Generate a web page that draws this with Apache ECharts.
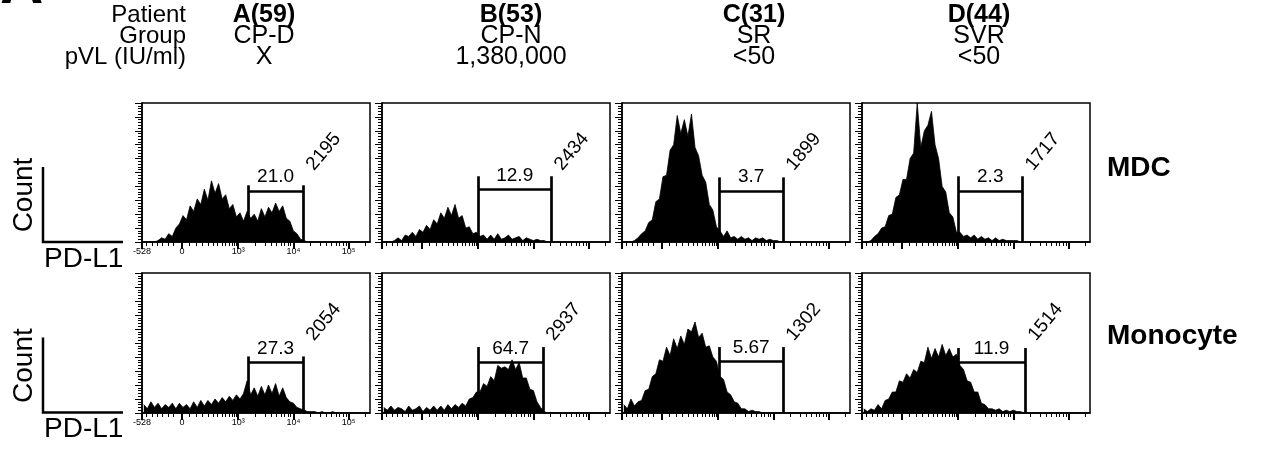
<!DOCTYPE html>
<html>
<head>
<meta charset="utf-8">
<script src="https://cdn.jsdelivr.net/npm/echarts@6/dist/echarts.min.js"></script>
<style>
  html, body { margin: 0; padding: 0; background: #fff; }
  #chart { width: 1262px; height: 452px; }
</style>
</head>
<body>
<div id="chart"></div>
<script>
// PD-L1 expression histograms: 64 bins of 4 channels on a 256-channel logicle display.
const binChannels = Array.from({ length: 64 }, (_, i) => 4 * i + 2);

const patients = ['A(59)', 'B(53)', 'C(31)', 'D(44)'];
const groups = ['CP-D', 'CP-N', 'SR', 'SVR'];
const viralLoads = ['X', '1,380,000', '<50', '<50'];
const cellTypes = ['MDC', 'Monocyte'];

// Percent of max count per bin, MDC row
const mdcA = [0,0,0,0,1,3,2,6,4,10, 13,19,16,26,22,31,27,38,30,44, 35,42,31,34,24,27,18,21,15,22, 17,20,15,24,18,25,21,28,22,26, 17,15,8,6,2,1,0,0,0,0, 0,0,0,0,0,0,0,0,0,0, 0,0,0,0];
const mdcB = [0,0,0,1,3,1,5,4,7,4, 9,7,12,9,16,13,21,17,25,19, 27,17,19,10,11,6,7,4,5,2, 5,2,6,2,3,5,2,3,4,1, 3,2,1,2,1,1,0,0,0,0, 0,0,0,0,0,0,0,0,0,0, 0,0,0,0];
const mdcC = [0,0,0,1,3,6,8,14,16,29, 31,47,48,66,70,91,78,88,76,92, 68,62,48,43,27,23,11,8,4,8, 3,4,2,4,2,3,1,3,2,3, 1,2,1,1,0,0,0,0,0,0, 0,0,0,0,0,0,0,0,0,0, 0,0,0,0];
const mdcD = [0,0,1,4,6,10,11,19,20,32, 34,45,45,60,64,100,68,80,84,94, 70,60,40,36,21,18,7,7,4,5, 3,5,2,4,2,3,1,3,1,2, 1,1,1,1,0,0,0,0,0,0, 0,0,0,0,0,0,0,0,0,0, 0,0,0,0];

// Percent of max count per bin, monocyte row
const monoA = [6,3,8,4,7,3,6,4,7,3, 7,4,6,3,8,4,9,5,9,6, 10,7,11,8,12,9,13,10,14,23, 13,18,12,19,13,20,14,21,12,18, 11,8,7,4,3,2,1,1,1,0, 1,0,0,1,0,0,0,0,0,0, 0,0,0,0];
const monoB = [4,2,5,2,4,3,1,5,2,3, 5,1,4,2,5,2,5,2,6,3, 6,4,7,5,10,11,15,15,21,19, 26,23,34,32,33,31,38,31,36,25, 25,17,16,8,4,1,0,0,0,0, 0,0,0,0,0,0,0,0,0,0, 0,0,0,0];
const monoC = [6,3,10,5,8,9,16,17,26,28, 38,37,47,41,53,46,55,49,60,58, 65,54,57,47,48,40,37,26,24,15, 13,8,7,3,3,1,2,1,1,0, 0,0,0,0,0,0,0,0,0,0, 0,0,0,0,0,0,0,0,0,0, 0,0,0,0];
const monoD = [3,1,3,2,6,3,9,10,15,15, 23,22,28,25,31,29,37,36,47,39, 46,40,49,41,46,40,42,34,31,23, 22,15,15,7,6,3,3,2,3,1, 2,1,2,1,1,0,0,0,0,0, 0,0,0,0,0,0,0,0,0,0, 0,0,0,0];

// PD-L1+ gates (channels), gate marker levels (% of max), gated % and MFI
const mdcGateLow = [119, 108, 109, 108];
const mdcGateHigh = [181, 190, 181, 180];
const mdcGateBar = [36.7, 37.7, 36.5, 36.7];
const mdcGateTop = [40.8, 47.3, 46.5, 47.3];
const mdcPercent = ['21.0', '12.9', '3.7', '2.3'];
const mdcMFI = [2195, 2434, 1899, 1717];

const monoGateLow = [119, 108, 109, 108];
const monoGateHigh = [181, 181, 181, 183];
const monoGateBar = [36.1, 36.1, 36.9, 36.1];
const monoGateTop = [40.4, 47.1, 47.1, 46.4];
const monoPercent = ['27.3', '64.7', '5.67', '11.9'];
const monoMFI = [2054, 2937, 1302, 1514];

// Logicle axis: tick channels and decade labels
const xTickChannels = [5, 11, 17, 23, 29, 35, 45, 53, 61, 68, 74, 80, 85, 90, 94, 98, 101, 104, 106, 108,
  127, 138, 145, 151, 156, 160, 164, 167, 170, 189, 200, 207, 213, 218, 222, 226, 229, 232, 251];
const xMajorChannels = [0, 45, 108, 170, 232];
const xMajorLabels = ['-528', '0', '10³', '10⁴', '10⁵'];

const rows = [
  { hists: [mdcA, mdcB, mdcC, mdcD], lo: mdcGateLow, hi: mdcGateHigh, bar: mdcGateBar, top: mdcGateTop, pct: mdcPercent, mfi: mdcMFI },
  { hists: [monoA, monoB, monoC, monoD], lo: monoGateLow, hi: monoGateHigh, bar: monoGateBar, top: monoGateTop, pct: monoPercent, mfi: monoMFI }
];

const FONT = '"Liberation Sans", Arial, Helvetica, sans-serif';
const colLeft = [142, 382, 622, 862];
const rowTop = [103, 273];
const rowHeight = [139, 140];
const panelWidth = 228;

const grid = [], xAxis = [], yAxis = [], series = [];

rows.forEach((row, r) => {
  row.hists.forEach((hist, c) => {
    const g = grid.length;
    grid.push({
      left: colLeft[c], top: rowTop[r], width: panelWidth, height: rowHeight[r],
      show: true, borderColor: '#000', borderWidth: 1.5, backgroundColor: 'transparent'
    });
    // minor logicle ticks
    xAxis.push({
      type: 'value', gridIndex: g, min: 0, max: 256, position: 'bottom',
      axisLine: { show: true, lineStyle: { color: '#000', width: 1.5 } },
      axisTick: { show: true, customValues: xTickChannels, length: 4, lineStyle: { color: '#000', width: 1 } },
      axisLabel: { show: false }, splitLine: { show: false }
    });
    // decade ticks and labels
    xAxis.push({
      type: 'value', gridIndex: g, min: 0, max: 256, position: 'bottom',
      axisLine: { show: false },
      axisTick: { show: true, customValues: xMajorChannels, length: 7, lineStyle: { color: '#000', width: 2 } },
      axisLabel: {
        show: c === 0, customValues: xMajorChannels, margin: 5,
        fontSize: 9, fontFamily: FONT, color: '#000',
        formatter: v => xMajorLabels[xMajorChannels.indexOf(v)]
      },
      splitLine: { show: false }
    });
    yAxis.push({
      type: 'value', gridIndex: g, min: 0, max: 100, interval: 10,
      axisLine: { show: true, lineStyle: { color: '#000', width: 1.5 } },
      axisTick: { show: true, length: 7, lineStyle: { color: '#000', width: 1 } },
      minorTick: { show: true, splitNumber: 5, length: 4, lineStyle: { color: '#000', width: 1 } },
      axisLabel: { show: false }, splitLine: { show: false }
    });

    const lo = row.lo[c], hi = row.hi[c], bar = row.bar[c], top = row.top[c];
    series.push({
      type: 'line', xAxisIndex: 2 * g, yAxisIndex: g,
      data: binChannels.map((ch, i) => [ch, hist[i]]),
      symbol: 'none', silent: true,
      lineStyle: { color: '#000', width: 0.8 },
      areaStyle: { color: '#000', opacity: 1 },
      markLine: {
        silent: true, symbol: ['none', 'none'], animation: false,
        lineStyle: { color: '#000', width: 2.7, type: 'solid' },
        label: { show: false },
        data: [
          [{ coord: [lo, 0] }, { coord: [lo, top] }],
          [{ coord: [hi, 0] }, { coord: [hi, top] }],
          [{ coord: [lo, bar] }, { coord: [hi, bar] }]
        ]
      },
      markPoint: {
        silent: true, symbol: 'rect', symbolSize: 1, animation: false,
        itemStyle: { color: 'rgba(0,0,0,0)' },
        data: [
          {
            coord: [(lo + hi) / 2, bar],
            label: { show: true, formatter: row.pct[c], position: 'top', distance: 4,
              fontSize: 19, fontFamily: FONT, color: '#000' }
          },
          {
            coord: [hi + 23, 65],
            label: { show: true, formatter: String(row.mfi[c]), position: 'inside', rotate: 50,
              fontSize: 19, fontFamily: FONT, color: '#000' }
          }
        ]
      }
    });
  });
});

// Header, axis legend and row labels
const graphic = [];
function text(x, y, str, size, opt = {}) {
  graphic.push({
    type: 'text', x, y, rotation: opt.rotation || 0, silent: true,
    style: {
      text: str, fill: '#000',
      font: `${opt.bold ? 'bold ' : ''}${size}px ${FONT}`,
      align: opt.align || 'center', verticalAlign: 'middle'
    }
  });
}

text(0, -14, 'A', 60, { bold: true, align: 'left' });
['Patient', 'Group', 'pVL (IU/ml)'].forEach((s, i) => text(186, 15 + 21 * i, s, 24, { align: 'right' }));
const headerX = [264, 511, 754, 979];
patients.forEach((p, c) => {
  text(headerX[c], 15, p, 25, { bold: true });
  text(headerX[c], 36, groups[c], 25);
  text(headerX[c], 57, viralLoads[c], 25);
});

[0, 170.6].forEach((dy, r) => {
  text(24, 195 + dy, 'Count', 28, { rotation: Math.PI / 2 });
  graphic.push({
    type: 'polyline', silent: true,
    shape: { points: [[43, 167 + dy], [43, 242 + dy], [123, 242 + dy]] },
    style: { stroke: '#000', lineWidth: 2.5, fill: null }
  });
  text(44, 259 + dy, 'PD-L1', 28, { align: 'left' });
  text(1107, 168 + 168 * r, cellTypes[r], 28, { bold: true, align: 'left' });
});

const chart = echarts.init(document.getElementById('chart'), null, { renderer: 'canvas' });
chart.setOption({
  animation: false,
  backgroundColor: '#fff',
  grid, xAxis, yAxis, series, graphic
});
</script>
</body>
</html>
